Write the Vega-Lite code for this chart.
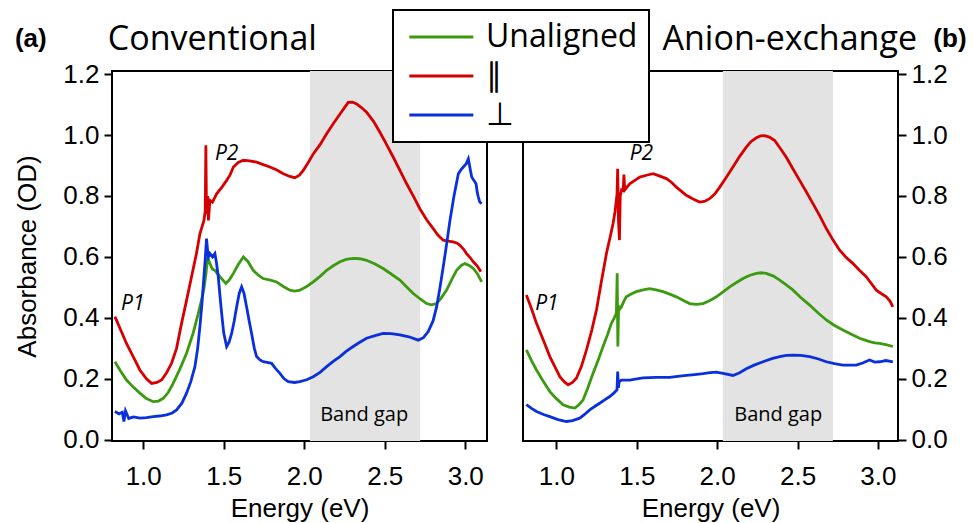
{
  "$schema": "https://vega.github.io/schema/vega-lite/v6.json",
  "background": "white",
  "padding": {"left": 13, "top": 9, "right": 0, "bottom": 0},
  "autosize": {"type": "pad"},
  "config": {
    "view": {"stroke": "black", "strokeWidth": 2},
    "axis": {"domain": false, "grid": false, "tickColor": "black", "tickWidth": 2, "tickSize": 8,
      "labelFont": "Arial, Liberation Sans, sans-serif", "labelFontSize": 26, "labelColor": "black", "labelPadding": 5,
      "titleFont": "Arial, Liberation Sans, sans-serif", "titleFontSize": 26, "titleFontWeight": "normal", "titleColor": "black"},
    "legend": {"strokeWidth": 2}
  },
  "datasets": {
    "bands": [{"p": "a", "x1": 2.035, "x2": 2.72}, {"p": "b", "x1": 2.035, "x2": 2.72}],
    "notes": [
      {"p": "a", "k": "title", "t": "Conventional", "e": 0.78, "v": 1.28},
      {"p": "a", "k": "tag", "t": "(a)", "e": 0.203, "v": 1.288},
      {"p": "a", "k": "peak", "t": "P1", "e": 0.862, "v": 0.425},
      {"p": "a", "k": "peak", "t": "P2", "e": 1.445, "v": 0.917},
      {"p": "a", "k": "gap", "t": "Band gap", "e": 2.372, "v": 0.06},
      {"p": "b", "k": "title", "t": "Anion-exchange", "e": 1.66, "v": 1.28},
      {"p": "b", "k": "tag", "t": "(b)", "e": 3.345, "v": 1.288},
      {"p": "b", "k": "peak", "t": "P1", "e": 0.868, "v": 0.425},
      {"p": "b", "k": "peak", "t": "P2", "e": 1.456, "v": 0.917},
      {"p": "b", "k": "gap", "t": "Band gap", "e": 2.38, "v": 0.06}
    ],
    "abs": [
      {"p":"a","s":"∥","e":0.824,"v":0.404},{"p":"a","s":"∥","e":0.86,"v":0.36},{"p":"a","s":"∥","e":0.896,"v":0.316},{"p":"a","s":"∥","e":0.94,"v":0.27},{"p":"a","s":"∥","e":0.979,"v":0.229},{"p":"a","s":"∥","e":1.02,"v":0.2},{"p":"a","s":"∥","e":1.052,"v":0.185},{"p":"a","s":"∥","e":1.085,"v":0.188},{"p":"a","s":"∥","e":1.114,"v":0.196},{"p":"a","s":"∥","e":1.145,"v":0.22},{"p":"a","s":"∥","e":1.176,"v":0.251},{"p":"a","s":"∥","e":1.207,"v":0.3},{"p":"a","s":"∥","e":1.238,"v":0.382},{"p":"a","s":"∥","e":1.27,"v":0.46},{"p":"a","s":"∥","e":1.3,"v":0.535},{"p":"a","s":"∥","e":1.33,"v":0.61},{"p":"a","s":"∥","e":1.352,"v":0.676},{"p":"a","s":"∥","e":1.377,"v":0.72},{"p":"a","s":"∥","e":1.385,"v":0.75},{"p":"a","s":"∥","e":1.389,"v":0.966},{"p":"a","s":"∥","e":1.393,"v":0.74},{"p":"a","s":"∥","e":1.4,"v":0.8},{"p":"a","s":"∥","e":1.405,"v":0.72},{"p":"a","s":"∥","e":1.414,"v":0.786},{"p":"a","s":"∥","e":1.43,"v":0.78},{"p":"a","s":"∥","e":1.456,"v":0.807},{"p":"a","s":"∥","e":1.49,"v":0.83},{"p":"a","s":"∥","e":1.518,"v":0.851},{"p":"a","s":"∥","e":1.54,"v":0.87},{"p":"a","s":"∥","e":1.56,"v":0.895},{"p":"a","s":"∥","e":1.59,"v":0.91},{"p":"a","s":"∥","e":1.622,"v":0.917},{"p":"a","s":"∥","e":1.66,"v":0.915},{"p":"a","s":"∥","e":1.704,"v":0.911},{"p":"a","s":"∥","e":1.745,"v":0.903},{"p":"a","s":"∥","e":1.787,"v":0.895},{"p":"a","s":"∥","e":1.83,"v":0.885},{"p":"a","s":"∥","e":1.87,"v":0.873},{"p":"a","s":"∥","e":1.91,"v":0.864},{"p":"a","s":"∥","e":1.942,"v":0.86},{"p":"a","s":"∥","e":1.97,"v":0.868},{"p":"a","s":"∥","e":1.994,"v":0.884},{"p":"a","s":"∥","e":2.025,"v":0.91},{"p":"a","s":"∥","e":2.056,"v":0.938},{"p":"a","s":"∥","e":2.1,"v":0.97},{"p":"a","s":"∥","e":2.139,"v":1.004},{"p":"a","s":"∥","e":2.18,"v":1.037},{"p":"a","s":"∥","e":2.222,"v":1.069},{"p":"a","s":"∥","e":2.25,"v":1.09},{"p":"a","s":"∥","e":2.273,"v":1.107},{"p":"a","s":"∥","e":2.3,"v":1.108},{"p":"a","s":"∥","e":2.325,"v":1.102},{"p":"a","s":"∥","e":2.355,"v":1.09},{"p":"a","s":"∥","e":2.387,"v":1.075},{"p":"a","s":"∥","e":2.43,"v":1.045},{"p":"a","s":"∥","e":2.47,"v":1.009},{"p":"a","s":"∥","e":2.51,"v":0.97},{"p":"a","s":"∥","e":2.553,"v":0.927},{"p":"a","s":"∥","e":2.595,"v":0.883},{"p":"a","s":"∥","e":2.636,"v":0.84},{"p":"a","s":"∥","e":2.68,"v":0.797},{"p":"a","s":"∥","e":2.718,"v":0.758},{"p":"a","s":"∥","e":2.76,"v":0.722},{"p":"a","s":"∥","e":2.801,"v":0.693},{"p":"a","s":"∥","e":2.83,"v":0.672},{"p":"a","s":"∥","e":2.863,"v":0.655},{"p":"a","s":"∥","e":2.895,"v":0.652},{"p":"a","s":"∥","e":2.925,"v":0.649},{"p":"a","s":"∥","e":2.95,"v":0.645},{"p":"a","s":"∥","e":2.967,"v":0.638},{"p":"a","s":"∥","e":2.99,"v":0.625},{"p":"a","s":"∥","e":3.008,"v":0.611},{"p":"a","s":"∥","e":3.03,"v":0.598},{"p":"a","s":"∥","e":3.05,"v":0.584},{"p":"a","s":"∥","e":3.075,"v":0.57},{"p":"a","s":"∥","e":3.097,"v":0.551},
      {"p":"a","s":"Unaligned","e":0.824,"v":0.256},{"p":"a","s":"Unaligned","e":0.86,"v":0.225},{"p":"a","s":"Unaligned","e":0.896,"v":0.196},{"p":"a","s":"Unaligned","e":0.94,"v":0.172},{"p":"a","s":"Unaligned","e":0.979,"v":0.153},{"p":"a","s":"Unaligned","e":1.02,"v":0.135},{"p":"a","s":"Unaligned","e":1.062,"v":0.125},{"p":"a","s":"Unaligned","e":1.095,"v":0.127},{"p":"a","s":"Unaligned","e":1.124,"v":0.136},{"p":"a","s":"Unaligned","e":1.155,"v":0.155},{"p":"a","s":"Unaligned","e":1.186,"v":0.185},{"p":"a","s":"Unaligned","e":1.23,"v":0.235},{"p":"a","s":"Unaligned","e":1.269,"v":0.284},{"p":"a","s":"Unaligned","e":1.31,"v":0.35},{"p":"a","s":"Unaligned","e":1.342,"v":0.415},{"p":"a","s":"Unaligned","e":1.362,"v":0.458},{"p":"a","s":"Unaligned","e":1.378,"v":0.5},{"p":"a","s":"Unaligned","e":1.39,"v":0.546},{"p":"a","s":"Unaligned","e":1.4,"v":0.6},{"p":"a","s":"Unaligned","e":1.414,"v":0.578},{"p":"a","s":"Unaligned","e":1.43,"v":0.56},{"p":"a","s":"Unaligned","e":1.445,"v":0.556},{"p":"a","s":"Unaligned","e":1.476,"v":0.535},{"p":"a","s":"Unaligned","e":1.513,"v":0.513},{"p":"a","s":"Unaligned","e":1.535,"v":0.525},{"p":"a","s":"Unaligned","e":1.56,"v":0.546},{"p":"a","s":"Unaligned","e":1.59,"v":0.575},{"p":"a","s":"Unaligned","e":1.622,"v":0.6},{"p":"a","s":"Unaligned","e":1.65,"v":0.585},{"p":"a","s":"Unaligned","e":1.683,"v":0.556},{"p":"a","s":"Unaligned","e":1.715,"v":0.54},{"p":"a","s":"Unaligned","e":1.745,"v":0.529},{"p":"a","s":"Unaligned","e":1.79,"v":0.524},{"p":"a","s":"Unaligned","e":1.828,"v":0.518},{"p":"a","s":"Unaligned","e":1.87,"v":0.503},{"p":"a","s":"Unaligned","e":1.911,"v":0.491},{"p":"a","s":"Unaligned","e":1.94,"v":0.488},{"p":"a","s":"Unaligned","e":1.973,"v":0.491},{"p":"a","s":"Unaligned","e":2.015,"v":0.503},{"p":"a","s":"Unaligned","e":2.056,"v":0.518},{"p":"a","s":"Unaligned","e":2.1,"v":0.537},{"p":"a","s":"Unaligned","e":2.139,"v":0.556},{"p":"a","s":"Unaligned","e":2.18,"v":0.571},{"p":"a","s":"Unaligned","e":2.222,"v":0.584},{"p":"a","s":"Unaligned","e":2.26,"v":0.592},{"p":"a","s":"Unaligned","e":2.304,"v":0.595},{"p":"a","s":"Unaligned","e":2.345,"v":0.594},{"p":"a","s":"Unaligned","e":2.387,"v":0.589},{"p":"a","s":"Unaligned","e":2.44,"v":0.577},{"p":"a","s":"Unaligned","e":2.49,"v":0.562},{"p":"a","s":"Unaligned","e":2.54,"v":0.544},{"p":"a","s":"Unaligned","e":2.594,"v":0.524},{"p":"a","s":"Unaligned","e":2.635,"v":0.502},{"p":"a","s":"Unaligned","e":2.677,"v":0.48},{"p":"a","s":"Unaligned","e":2.72,"v":0.462},{"p":"a","s":"Unaligned","e":2.76,"v":0.447},{"p":"a","s":"Unaligned","e":2.79,"v":0.443},{"p":"a","s":"Unaligned","e":2.822,"v":0.447},{"p":"a","s":"Unaligned","e":2.85,"v":0.465},{"p":"a","s":"Unaligned","e":2.884,"v":0.491},{"p":"a","s":"Unaligned","e":2.915,"v":0.525},{"p":"a","s":"Unaligned","e":2.946,"v":0.556},{"p":"a","s":"Unaligned","e":2.975,"v":0.572},{"p":"a","s":"Unaligned","e":2.998,"v":0.578},{"p":"a","s":"Unaligned","e":3.025,"v":0.572},{"p":"a","s":"Unaligned","e":3.05,"v":0.562},{"p":"a","s":"Unaligned","e":3.075,"v":0.545},{"p":"a","s":"Unaligned","e":3.102,"v":0.518},
      {"p":"a","s":"⊥","e":0.824,"v":0.093},{"p":"a","s":"⊥","e":0.85,"v":0.085},{"p":"a","s":"⊥","e":0.87,"v":0.09},{"p":"a","s":"⊥","e":0.88,"v":0.06},{"p":"a","s":"⊥","e":0.89,"v":0.095},{"p":"a","s":"⊥","e":0.91,"v":0.07},{"p":"a","s":"⊥","e":0.94,"v":0.075},{"p":"a","s":"⊥","e":0.979,"v":0.071},{"p":"a","s":"⊥","e":1.02,"v":0.073},{"p":"a","s":"⊥","e":1.062,"v":0.076},{"p":"a","s":"⊥","e":1.1,"v":0.078},{"p":"a","s":"⊥","e":1.145,"v":0.082},{"p":"a","s":"⊥","e":1.18,"v":0.088},{"p":"a","s":"⊥","e":1.207,"v":0.098},{"p":"a","s":"⊥","e":1.24,"v":0.12},{"p":"a","s":"⊥","e":1.269,"v":0.153},{"p":"a","s":"⊥","e":1.295,"v":0.19},{"p":"a","s":"⊥","e":1.321,"v":0.24},{"p":"a","s":"⊥","e":1.338,"v":0.3},{"p":"a","s":"⊥","e":1.352,"v":0.371},{"p":"a","s":"⊥","e":1.365,"v":0.45},{"p":"a","s":"⊥","e":1.377,"v":0.535},{"p":"a","s":"⊥","e":1.386,"v":0.6},{"p":"a","s":"⊥","e":1.393,"v":0.66},{"p":"a","s":"⊥","e":1.4,"v":0.62},{"p":"a","s":"⊥","e":1.405,"v":0.6},{"p":"a","s":"⊥","e":1.414,"v":0.611},{"p":"a","s":"⊥","e":1.43,"v":0.6},{"p":"a","s":"⊥","e":1.445,"v":0.611},{"p":"a","s":"⊥","e":1.455,"v":0.58},{"p":"a","s":"⊥","e":1.466,"v":0.535},{"p":"a","s":"⊥","e":1.477,"v":0.47},{"p":"a","s":"⊥","e":1.487,"v":0.415},{"p":"a","s":"⊥","e":1.5,"v":0.35},{"p":"a","s":"⊥","e":1.518,"v":0.306},{"p":"a","s":"⊥","e":1.533,"v":0.32},{"p":"a","s":"⊥","e":1.549,"v":0.349},{"p":"a","s":"⊥","e":1.565,"v":0.39},{"p":"a","s":"⊥","e":1.58,"v":0.436},{"p":"a","s":"⊥","e":1.596,"v":0.48},{"p":"a","s":"⊥","e":1.611,"v":0.502},{"p":"a","s":"⊥","e":1.626,"v":0.48},{"p":"a","s":"⊥","e":1.642,"v":0.436},{"p":"a","s":"⊥","e":1.658,"v":0.39},{"p":"a","s":"⊥","e":1.673,"v":0.349},{"p":"a","s":"⊥","e":1.69,"v":0.3},{"p":"a","s":"⊥","e":1.704,"v":0.273},{"p":"a","s":"⊥","e":1.725,"v":0.262},{"p":"a","s":"⊥","e":1.745,"v":0.256},{"p":"a","s":"⊥","e":1.77,"v":0.254},{"p":"a","s":"⊥","e":1.797,"v":0.251},{"p":"a","s":"⊥","e":1.82,"v":0.235},{"p":"a","s":"⊥","e":1.849,"v":0.218},{"p":"a","s":"⊥","e":1.875,"v":0.2},{"p":"a","s":"⊥","e":1.901,"v":0.191},{"p":"a","s":"⊥","e":1.94,"v":0.188},{"p":"a","s":"⊥","e":1.973,"v":0.191},{"p":"a","s":"⊥","e":2.015,"v":0.197},{"p":"a","s":"⊥","e":2.056,"v":0.207},{"p":"a","s":"⊥","e":2.1,"v":0.222},{"p":"a","s":"⊥","e":2.139,"v":0.24},{"p":"a","s":"⊥","e":2.18,"v":0.257},{"p":"a","s":"⊥","e":2.222,"v":0.273},{"p":"a","s":"⊥","e":2.26,"v":0.29},{"p":"a","s":"⊥","e":2.304,"v":0.306},{"p":"a","s":"⊥","e":2.345,"v":0.32},{"p":"a","s":"⊥","e":2.387,"v":0.333},{"p":"a","s":"⊥","e":2.44,"v":0.342},{"p":"a","s":"⊥","e":2.49,"v":0.349},{"p":"a","s":"⊥","e":2.54,"v":0.348},{"p":"a","s":"⊥","e":2.594,"v":0.344},{"p":"a","s":"⊥","e":2.65,"v":0.338},{"p":"a","s":"⊥","e":2.708,"v":0.327},{"p":"a","s":"⊥","e":2.74,"v":0.335},{"p":"a","s":"⊥","e":2.77,"v":0.355},{"p":"a","s":"⊥","e":2.8,"v":0.39},{"p":"a","s":"⊥","e":2.822,"v":0.436},{"p":"a","s":"⊥","e":2.843,"v":0.5},{"p":"a","s":"⊥","e":2.863,"v":0.567},{"p":"a","s":"⊥","e":2.885,"v":0.645},{"p":"a","s":"⊥","e":2.905,"v":0.72},{"p":"a","s":"⊥","e":2.93,"v":0.8},{"p":"a","s":"⊥","e":2.957,"v":0.873},{"p":"a","s":"⊥","e":2.975,"v":0.887},{"p":"a","s":"⊥","e":2.988,"v":0.895},{"p":"a","s":"⊥","e":3.005,"v":0.905},{"p":"a","s":"⊥","e":3.019,"v":0.922},{"p":"a","s":"⊥","e":3.03,"v":0.89},{"p":"a","s":"⊥","e":3.04,"v":0.862},{"p":"a","s":"⊥","e":3.055,"v":0.85},{"p":"a","s":"⊥","e":3.067,"v":0.84},{"p":"a","s":"⊥","e":3.075,"v":0.81},{"p":"a","s":"⊥","e":3.081,"v":0.797},{"p":"a","s":"⊥","e":3.09,"v":0.78},{"p":"a","s":"⊥","e":3.102,"v":0.775},
      {"p":"b","s":"∥","e":0.813,"v":0.475},{"p":"b","s":"∥","e":0.845,"v":0.43},{"p":"b","s":"∥","e":0.876,"v":0.382},{"p":"b","s":"∥","e":0.92,"v":0.325},{"p":"b","s":"∥","e":0.959,"v":0.273},{"p":"b","s":"∥","e":0.99,"v":0.24},{"p":"b","s":"∥","e":1.021,"v":0.207},{"p":"b","s":"∥","e":1.05,"v":0.19},{"p":"b","s":"∥","e":1.073,"v":0.18},{"p":"b","s":"∥","e":1.1,"v":0.188},{"p":"b","s":"∥","e":1.124,"v":0.202},{"p":"b","s":"∥","e":1.155,"v":0.24},{"p":"b","s":"∥","e":1.187,"v":0.295},{"p":"b","s":"∥","e":1.22,"v":0.36},{"p":"b","s":"∥","e":1.249,"v":0.426},{"p":"b","s":"∥","e":1.28,"v":0.52},{"p":"b","s":"∥","e":1.311,"v":0.611},{"p":"b","s":"∥","e":1.332,"v":0.66},{"p":"b","s":"∥","e":1.352,"v":0.709},{"p":"b","s":"∥","e":1.365,"v":0.75},{"p":"b","s":"∥","e":1.377,"v":0.807},{"p":"b","s":"∥","e":1.381,"v":0.889},{"p":"b","s":"∥","e":1.386,"v":0.72},{"p":"b","s":"∥","e":1.392,"v":0.655},{"p":"b","s":"∥","e":1.397,"v":0.8},{"p":"b","s":"∥","e":1.405,"v":0.82},{"p":"b","s":"∥","e":1.415,"v":0.818},{"p":"b","s":"∥","e":1.42,"v":0.87},{"p":"b","s":"∥","e":1.425,"v":0.82},{"p":"b","s":"∥","e":1.44,"v":0.83},{"p":"b","s":"∥","e":1.456,"v":0.84},{"p":"b","s":"∥","e":1.49,"v":0.852},{"p":"b","s":"∥","e":1.518,"v":0.862},{"p":"b","s":"∥","e":1.56,"v":0.868},{"p":"b","s":"∥","e":1.601,"v":0.873},{"p":"b","s":"∥","e":1.64,"v":0.866},{"p":"b","s":"∥","e":1.684,"v":0.857},{"p":"b","s":"∥","e":1.715,"v":0.845},{"p":"b","s":"∥","e":1.746,"v":0.829},{"p":"b","s":"∥","e":1.78,"v":0.814},{"p":"b","s":"∥","e":1.808,"v":0.802},{"p":"b","s":"∥","e":1.85,"v":0.79},{"p":"b","s":"∥","e":1.891,"v":0.78},{"p":"b","s":"∥","e":1.92,"v":0.782},{"p":"b","s":"∥","e":1.953,"v":0.791},{"p":"b","s":"∥","e":1.985,"v":0.806},{"p":"b","s":"∥","e":2.016,"v":0.829},{"p":"b","s":"∥","e":2.055,"v":0.86},{"p":"b","s":"∥","e":2.098,"v":0.895},{"p":"b","s":"∥","e":2.14,"v":0.93},{"p":"b","s":"∥","e":2.181,"v":0.96},{"p":"b","s":"∥","e":2.21,"v":0.978},{"p":"b","s":"∥","e":2.244,"v":0.991},{"p":"b","s":"∥","e":2.27,"v":0.997},{"p":"b","s":"∥","e":2.295,"v":0.998},{"p":"b","s":"∥","e":2.325,"v":0.993},{"p":"b","s":"∥","e":2.358,"v":0.982},{"p":"b","s":"∥","e":2.39,"v":0.958},{"p":"b","s":"∥","e":2.43,"v":0.927},{"p":"b","s":"∥","e":2.47,"v":0.89},{"p":"b","s":"∥","e":2.513,"v":0.851},{"p":"b","s":"∥","e":2.555,"v":0.813},{"p":"b","s":"∥","e":2.596,"v":0.775},{"p":"b","s":"∥","e":2.64,"v":0.733},{"p":"b","s":"∥","e":2.679,"v":0.693},{"p":"b","s":"∥","e":2.72,"v":0.656},{"p":"b","s":"∥","e":2.762,"v":0.622},{"p":"b","s":"∥","e":2.8,"v":0.6},{"p":"b","s":"∥","e":2.845,"v":0.578},{"p":"b","s":"∥","e":2.885,"v":0.556},{"p":"b","s":"∥","e":2.927,"v":0.535},{"p":"b","s":"∥","e":2.96,"v":0.512},{"p":"b","s":"∥","e":2.99,"v":0.491},{"p":"b","s":"∥","e":3.02,"v":0.48},{"p":"b","s":"∥","e":3.052,"v":0.469},{"p":"b","s":"∥","e":3.075,"v":0.455},{"p":"b","s":"∥","e":3.093,"v":0.436},
      {"p":"b","s":"Unaligned","e":0.813,"v":0.295},{"p":"b","s":"Unaligned","e":0.845,"v":0.26},{"p":"b","s":"Unaligned","e":0.876,"v":0.229},{"p":"b","s":"Unaligned","e":0.92,"v":0.19},{"p":"b","s":"Unaligned","e":0.959,"v":0.158},{"p":"b","s":"Unaligned","e":1.0,"v":0.135},{"p":"b","s":"Unaligned","e":1.041,"v":0.115},{"p":"b","s":"Unaligned","e":1.08,"v":0.107},{"p":"b","s":"Unaligned","e":1.114,"v":0.104},{"p":"b","s":"Unaligned","e":1.14,"v":0.115},{"p":"b","s":"Unaligned","e":1.166,"v":0.131},{"p":"b","s":"Unaligned","e":1.195,"v":0.17},{"p":"b","s":"Unaligned","e":1.228,"v":0.218},{"p":"b","s":"Unaligned","e":1.26,"v":0.262},{"p":"b","s":"Unaligned","e":1.29,"v":0.306},{"p":"b","s":"Unaligned","e":1.318,"v":0.345},{"p":"b","s":"Unaligned","e":1.342,"v":0.382},{"p":"b","s":"Unaligned","e":1.36,"v":0.4},{"p":"b","s":"Unaligned","e":1.373,"v":0.415},{"p":"b","s":"Unaligned","e":1.378,"v":0.546},{"p":"b","s":"Unaligned","e":1.382,"v":0.306},{"p":"b","s":"Unaligned","e":1.387,"v":0.44},{"p":"b","s":"Unaligned","e":1.395,"v":0.43},{"p":"b","s":"Unaligned","e":1.404,"v":0.436},{"p":"b","s":"Unaligned","e":1.42,"v":0.455},{"p":"b","s":"Unaligned","e":1.435,"v":0.469},{"p":"b","s":"Unaligned","e":1.465,"v":0.478},{"p":"b","s":"Unaligned","e":1.497,"v":0.486},{"p":"b","s":"Unaligned","e":1.54,"v":0.492},{"p":"b","s":"Unaligned","e":1.58,"v":0.496},{"p":"b","s":"Unaligned","e":1.62,"v":0.492},{"p":"b","s":"Unaligned","e":1.663,"v":0.486},{"p":"b","s":"Unaligned","e":1.705,"v":0.478},{"p":"b","s":"Unaligned","e":1.746,"v":0.469},{"p":"b","s":"Unaligned","e":1.79,"v":0.457},{"p":"b","s":"Unaligned","e":1.829,"v":0.447},{"p":"b","s":"Unaligned","e":1.87,"v":0.444},{"p":"b","s":"Unaligned","e":1.912,"v":0.447},{"p":"b","s":"Unaligned","e":1.955,"v":0.457},{"p":"b","s":"Unaligned","e":1.995,"v":0.469},{"p":"b","s":"Unaligned","e":2.037,"v":0.485},{"p":"b","s":"Unaligned","e":2.078,"v":0.502},{"p":"b","s":"Unaligned","e":2.12,"v":0.516},{"p":"b","s":"Unaligned","e":2.161,"v":0.529},{"p":"b","s":"Unaligned","e":2.2,"v":0.539},{"p":"b","s":"Unaligned","e":2.244,"v":0.546},{"p":"b","s":"Unaligned","e":2.275,"v":0.548},{"p":"b","s":"Unaligned","e":2.306,"v":0.546},{"p":"b","s":"Unaligned","e":2.35,"v":0.537},{"p":"b","s":"Unaligned","e":2.389,"v":0.524},{"p":"b","s":"Unaligned","e":2.43,"v":0.508},{"p":"b","s":"Unaligned","e":2.472,"v":0.491},{"p":"b","s":"Unaligned","e":2.52,"v":0.467},{"p":"b","s":"Unaligned","e":2.575,"v":0.442},{"p":"b","s":"Unaligned","e":2.63,"v":0.415},{"p":"b","s":"Unaligned","e":2.679,"v":0.393},{"p":"b","s":"Unaligned","e":2.73,"v":0.375},{"p":"b","s":"Unaligned","e":2.782,"v":0.36},{"p":"b","s":"Unaligned","e":2.835,"v":0.346},{"p":"b","s":"Unaligned","e":2.886,"v":0.333},{"p":"b","s":"Unaligned","e":2.92,"v":0.327},{"p":"b","s":"Unaligned","e":2.948,"v":0.322},{"p":"b","s":"Unaligned","e":2.98,"v":0.318},{"p":"b","s":"Unaligned","e":3.01,"v":0.316},{"p":"b","s":"Unaligned","e":3.05,"v":0.312},{"p":"b","s":"Unaligned","e":3.093,"v":0.306},
      {"p":"b","s":"⊥","e":0.813,"v":0.115},{"p":"b","s":"⊥","e":0.845,"v":0.103},{"p":"b","s":"⊥","e":0.876,"v":0.093},{"p":"b","s":"⊥","e":0.92,"v":0.083},{"p":"b","s":"⊥","e":0.959,"v":0.076},{"p":"b","s":"⊥","e":1.01,"v":0.066},{"p":"b","s":"⊥","e":1.062,"v":0.06},{"p":"b","s":"⊥","e":1.1,"v":0.063},{"p":"b","s":"⊥","e":1.145,"v":0.071},{"p":"b","s":"⊥","e":1.175,"v":0.083},{"p":"b","s":"⊥","e":1.207,"v":0.098},{"p":"b","s":"⊥","e":1.24,"v":0.11},{"p":"b","s":"⊥","e":1.269,"v":0.12},{"p":"b","s":"⊥","e":1.3,"v":0.131},{"p":"b","s":"⊥","e":1.332,"v":0.142},{"p":"b","s":"⊥","e":1.355,"v":0.152},{"p":"b","s":"⊥","e":1.377,"v":0.164},{"p":"b","s":"⊥","e":1.381,"v":0.224},{"p":"b","s":"⊥","e":1.386,"v":0.17},{"p":"b","s":"⊥","e":1.39,"v":0.19},{"p":"b","s":"⊥","e":1.404,"v":0.196},{"p":"b","s":"⊥","e":1.43,"v":0.196},{"p":"b","s":"⊥","e":1.456,"v":0.196},{"p":"b","s":"⊥","e":1.5,"v":0.2},{"p":"b","s":"⊥","e":1.539,"v":0.203},{"p":"b","s":"⊥","e":1.58,"v":0.204},{"p":"b","s":"⊥","e":1.622,"v":0.205},{"p":"b","s":"⊥","e":1.66,"v":0.205},{"p":"b","s":"⊥","e":1.705,"v":0.205},{"p":"b","s":"⊥","e":1.755,"v":0.208},{"p":"b","s":"⊥","e":1.808,"v":0.211},{"p":"b","s":"⊥","e":1.86,"v":0.214},{"p":"b","s":"⊥","e":1.912,"v":0.217},{"p":"b","s":"⊥","e":1.955,"v":0.22},{"p":"b","s":"⊥","e":1.995,"v":0.222},{"p":"b","s":"⊥","e":2.045,"v":0.217},{"p":"b","s":"⊥","e":2.098,"v":0.211},{"p":"b","s":"⊥","e":2.14,"v":0.22},{"p":"b","s":"⊥","e":2.181,"v":0.233},{"p":"b","s":"⊥","e":2.23,"v":0.245},{"p":"b","s":"⊥","e":2.285,"v":0.256},{"p":"b","s":"⊥","e":2.34,"v":0.266},{"p":"b","s":"⊥","e":2.389,"v":0.273},{"p":"b","s":"⊥","e":2.43,"v":0.277},{"p":"b","s":"⊥","e":2.472,"v":0.278},{"p":"b","s":"⊥","e":2.52,"v":0.277},{"p":"b","s":"⊥","e":2.575,"v":0.273},{"p":"b","s":"⊥","e":2.63,"v":0.265},{"p":"b","s":"⊥","e":2.679,"v":0.256},{"p":"b","s":"⊥","e":2.73,"v":0.25},{"p":"b","s":"⊥","e":2.782,"v":0.245},{"p":"b","s":"⊥","e":2.82,"v":0.245},{"p":"b","s":"⊥","e":2.865,"v":0.245},{"p":"b","s":"⊥","e":2.905,"v":0.252},{"p":"b","s":"⊥","e":2.948,"v":0.262},{"p":"b","s":"⊥","e":2.98,"v":0.255},{"p":"b","s":"⊥","e":3.01,"v":0.256},{"p":"b","s":"⊥","e":3.05,"v":0.26},{"p":"b","s":"⊥","e":3.093,"v":0.256}
    ]
  },
  "spacing": 36,
  "bounds": "flush",
  "resolve": {"scale": {"color": "shared"}, "legend": {"color": "shared"}},
  "hconcat": [
    {
      "width": 375, "height": 370,
      "layer": [
        {"data": {"name": "bands"}, "transform": [{"filter": "datum.p == 'a'"}],
         "mark": {"type": "rect", "color": "#e3e3e3"},
         "encoding": {
           "x": {"field": "x1", "type": "quantitative", "scale": {"domain": [0.806, 3.135], "nice": false, "zero": false},
                 "axis": {"orient": "bottom", "values": [1, 1.5, 2, 2.5, 3], "format": ".1f", "title": "Energy (eV)", "labelPadding": 14, "titlePadding": 6}},
           "x2": {"field": "x2"}}},
        {"data": {"name": "abs"}, "transform": [{"filter": "datum.p == 'a'"}],
         "mark": {"type": "line", "strokeWidth": 2.8},
         "encoding": {
           "x": {"field": "e", "type": "quantitative"},
           "y": {"field": "v", "type": "quantitative", "scale": {"domain": [-0.004, 1.21], "nice": false, "zero": false},
                 "axis": {"orient": "left", "values": [0, 0.2, 0.4, 0.6, 0.8, 1, 1.2], "format": ".1f", "title": "Absorbance (OD)", "titlePadding": 22}},
           "color": {"field": "s", "type": "nominal",
             "scale": {"domain": ["Unaligned", "∥", "⊥"], "range": ["#3c9a10", "#d60000", "#0a30dc"]},
             "legend": {"orient": "none", "legendX": 281, "legendY": -61, "title": null,
               "symbolType": "M-1,0H5", "symbolSize": 455, "symbolStrokeWidth": 3,
               "labelFont": "Open Sans", "labelFontSize": 32, "labelColor": "black", "labelOffset": 50,
               "rowPadding": 7, "padding": 11, "fillColor": "white", "strokeColor": "black"}}}},
        {"data": {"name": "notes"}, "transform": [{"filter": "datum.p == 'a' && datum.k == 'title'"}],
         "mark": {"type": "text", "font": "Open Sans", "fontSize": 34, "align": "left", "baseline": "alphabetic", "color": "black"},
         "encoding": {"x": {"field": "e", "type": "quantitative"}, "y": {"field": "v", "type": "quantitative"}, "text": {"field": "t"}}},
        {"data": {"name": "notes"}, "transform": [{"filter": "datum.p == 'a' && datum.k == 'tag'"}],
         "mark": {"type": "text", "font": "Arial, Liberation Sans, sans-serif", "fontSize": 26, "fontWeight": "bold", "align": "left", "baseline": "alphabetic", "color": "black"},
         "encoding": {"x": {"field": "e", "type": "quantitative"}, "y": {"field": "v", "type": "quantitative"}, "text": {"field": "t"}}},
        {"data": {"name": "notes"}, "transform": [{"filter": "datum.p == 'a' && datum.k == 'peak'"}],
         "mark": {"type": "text", "font": "Open Sans", "fontSize": 21, "fontStyle": "italic", "align": "left", "baseline": "alphabetic", "color": "black"},
         "encoding": {"x": {"field": "e", "type": "quantitative"}, "y": {"field": "v", "type": "quantitative"}, "text": {"field": "t"}}},
        {"data": {"name": "notes"}, "transform": [{"filter": "datum.p == 'a' && datum.k == 'gap'"}],
         "mark": {"type": "text", "font": "Open Sans", "fontSize": 20, "align": "center", "baseline": "alphabetic", "color": "black"},
         "encoding": {"x": {"field": "e", "type": "quantitative"}, "y": {"field": "v", "type": "quantitative"}, "text": {"field": "t"}}}
      ]
    },
    {
      "width": 375, "height": 370,
      "layer": [
        {"data": {"name": "bands"}, "transform": [{"filter": "datum.p == 'b'"}],
         "mark": {"type": "rect", "color": "#e3e3e3"},
         "encoding": {
           "x": {"field": "x1", "type": "quantitative", "scale": {"domain": [0.792, 3.125], "nice": false, "zero": false},
                 "axis": {"orient": "bottom", "values": [1, 1.5, 2, 2.5, 3], "format": ".1f", "title": "Energy (eV)", "labelPadding": 14, "titlePadding": 6}},
           "x2": {"field": "x2"}}},
        {"data": {"name": "abs"}, "transform": [{"filter": "datum.p == 'b'"}],
         "mark": {"type": "line", "strokeWidth": 2.8},
         "encoding": {
           "x": {"field": "e", "type": "quantitative"},
           "y": {"field": "v", "type": "quantitative", "scale": {"domain": [-0.004, 1.21], "nice": false, "zero": false},
                 "axis": {"orient": "right", "values": [0, 0.2, 0.4, 0.6, 0.8, 1, 1.2], "format": ".1f", "title": null}},
           "color": {"field": "s", "type": "nominal"}}},
        {"data": {"name": "notes"}, "transform": [{"filter": "datum.p == 'b' && datum.k == 'title'"}],
         "mark": {"type": "text", "font": "Open Sans", "fontSize": 34, "align": "left", "baseline": "alphabetic", "color": "black"},
         "encoding": {"x": {"field": "e", "type": "quantitative"}, "y": {"field": "v", "type": "quantitative"}, "text": {"field": "t"}}},
        {"data": {"name": "notes"}, "transform": [{"filter": "datum.p == 'b' && datum.k == 'tag'"}],
         "mark": {"type": "text", "font": "Arial, Liberation Sans, sans-serif", "fontSize": 26, "fontWeight": "bold", "align": "left", "baseline": "alphabetic", "color": "black"},
         "encoding": {"x": {"field": "e", "type": "quantitative"}, "y": {"field": "v", "type": "quantitative"}, "text": {"field": "t"}}},
        {"data": {"name": "notes"}, "transform": [{"filter": "datum.p == 'b' && datum.k == 'peak'"}],
         "mark": {"type": "text", "font": "Open Sans", "fontSize": 21, "fontStyle": "italic", "align": "left", "baseline": "alphabetic", "color": "black"},
         "encoding": {"x": {"field": "e", "type": "quantitative"}, "y": {"field": "v", "type": "quantitative"}, "text": {"field": "t"}}},
        {"data": {"name": "notes"}, "transform": [{"filter": "datum.p == 'b' && datum.k == 'gap'"}],
         "mark": {"type": "text", "font": "Open Sans", "fontSize": 20, "align": "center", "baseline": "alphabetic", "color": "black"},
         "encoding": {"x": {"field": "e", "type": "quantitative"}, "y": {"field": "v", "type": "quantitative"}, "text": {"field": "t"}}}
      ]
    }
  ]
}
